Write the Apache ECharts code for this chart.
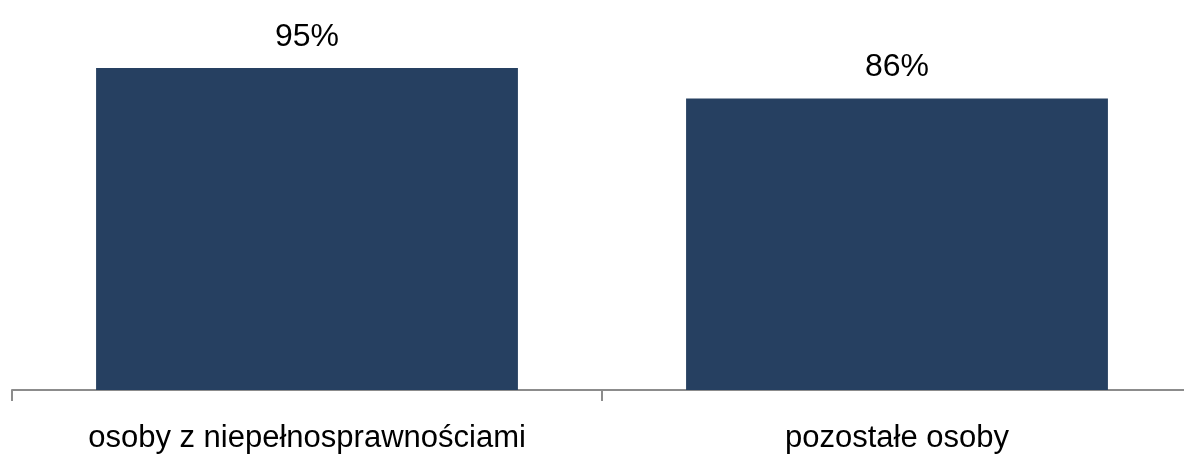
<!DOCTYPE html>
<html><head><meta charset="utf-8">
<script src="https://cdn.jsdelivr.net/npm/echarts@6/dist/echarts.min.js"></script>
<style>html,body{margin:0;padding:0;background:#fff}#c{width:1184px;height:454px}</style>
</head><body><div id="c"></div>
<script>
const categories = ["osoby z niepełnosprawnościami", "pozostałe osoby"];
const values = [95, 86];
const FONT = '"Liberation Sans Narrow","Arial Narrow","Liberation Sans",sans-serif';
const chart = echarts.init(document.getElementById('c'), null, {renderer:'canvas'});
chart.setOption({
  animation:false,
  grid:{left:12,width:1180,top:51,bottom:64,containLabel:false,outerBoundsMode:'none'},
  xAxis:{type:'category',data:categories,
    axisLine:{lineStyle:{color:'#8c8c8c',width:2}},
    axisTick:{show:true,length:11,lineStyle:{color:'#8c8c8c',width:2}},
    axisLabel:{color:'#000',fontFamily:FONT,fontSize:31,margin:33}},
  yAxis:{type:'value',min:0,max:100,show:false,splitLine:{show:false}},
  series:[{type:'bar',data:values,barWidth:'71.5%',itemStyle:{color:'#264061'},
    label:{show:true,position:'top',distance:15,formatter:'{c}%',color:'#000',fontFamily:FONT,fontSize:32}}]
});
</script></body></html>
